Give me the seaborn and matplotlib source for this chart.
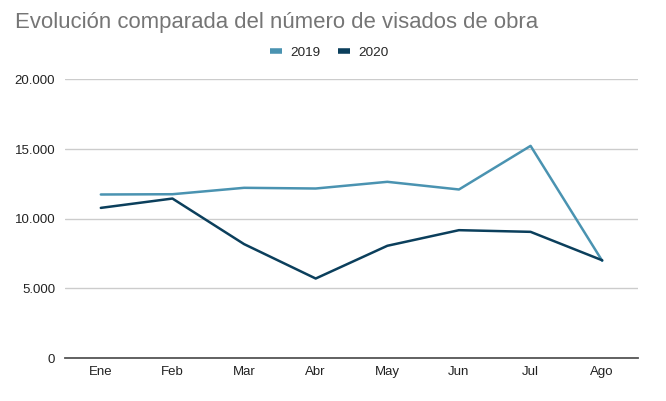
import pandas as pd
import matplotlib
matplotlib.use("Agg")
import matplotlib.pyplot as plt
import seaborn as sns
from matplotlib.ticker import FuncFormatter
from matplotlib.lines import Line2D

# datos
meses = ["Ene", "Feb", "Mar", "Abr", "May", "Jun", "Jul", "Ago"]
visados_2019 = [11740, 11760, 12220, 12170, 12650, 12100, 15230, 6980]
visados_2020 = [10780, 11450, 8180, 5710, 8060, 9180, 9060, 7020]
anios = ["2019", "2020"]
colores = ["#4a93b1", "#0b3f5c"]

df = pd.DataFrame({
    "mes": meses * 2,
    "visados": visados_2019 + visados_2020,
    "anio": [anios[0]] * len(meses) + [anios[1]] * len(meses),
})

sns.set_style("white")
plt.rcParams["font.family"] = ["Liberation Sans", "DejaVu Sans"]

fig = plt.figure(figsize=(6.66, 4.01), dpi=100)
ax = fig.add_axes([0.0976, 0.107, 0.8604, 0.695])

sns.lineplot(data=df, x="mes", y="visados", hue="anio", palette=colores,
             linewidth=1.8, ax=ax, legend=False, sort=False)

ax.set_xlim(-0.5, len(meses) - 0.5)
ax.set_ylim(0, 20000)
ax.set_yticks([0, 5000, 10000, 15000, 20000])
ax.yaxis.set_major_formatter(FuncFormatter(lambda v, p: f"{int(v):,}".replace(",", ".")))
ax.grid(axis="y", color="#cccccc", linewidth=1)
ax.set_axisbelow(True)
for s in ["top", "right", "left"]:
    ax.spines[s].set_visible(False)
ax.spines["bottom"].set_color("#555555")
ax.spines["bottom"].set_linewidth(1.3)
ax.tick_params(axis="both", length=0, labelsize=9.5, colors="#222222")
ax.tick_params(axis="x", pad=6)
ax.tick_params(axis="y", pad=7)
ax.set_xlabel("")
ax.set_ylabel("")

fig.text(0.0225, 0.945, "Evolución comparada del número de visados de obra",
         fontsize=15.9, color="#757575", va="center", ha="left")

# leyenda
handles = [Line2D([], [], color=c, linewidth=4, solid_capstyle="butt") for c in colores]
fig.legend(handles, anios, loc="center", bbox_to_anchor=(0.494, 0.868), ncol=2,
           frameon=False, fontsize=9.7, handlelength=0.9, columnspacing=1.3,
           handletextpad=0.6)

plt.savefig("out.png", dpi=100)
